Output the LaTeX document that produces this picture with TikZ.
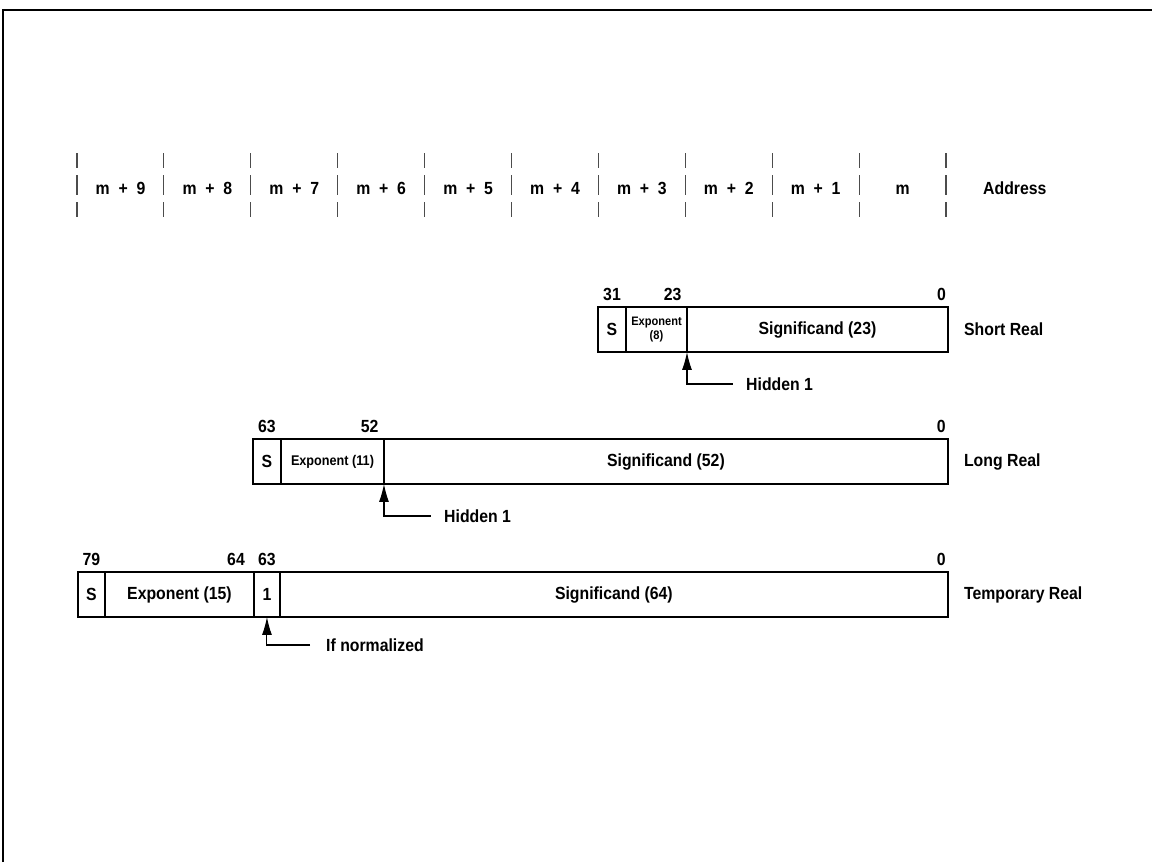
\documentclass[tikz,border=0pt]{standalone}
\usepackage{fontspec}
\setmainfont{Liberation Sans}[FakeStretch=0.9]
\usetikzlibrary{arrows.meta,positioning}

\begin{document}
\begin{tikzpicture}[x=0.02cm, y=-0.02cm,
    cell/.style={draw, line width=1.2pt, minimum height=0.9cm, inner sep=0pt, outer sep=0pt, font=\bfseries},
    bitnum/.style={font=\bfseries, inner sep=1pt, anchor=south, yshift=2.5pt},
    fmtname/.style={font=\bfseries, anchor=west},
    note/.style={font=\bfseries, anchor=west},
    pointer/.style={line width=0.6pt, -{Latex[length=0.36cm,width=0.2cm]}},
    divider/.style={line width=0.6pt, black!70}]

    % Page and frame
    \useasboundingbox (0,0) rectangle (1152,862);
    \draw[line width=1.2pt] (3,862) -- (3,10) -- (1152,10);

    % Address row
    \foreach \k in {0,...,10} {
        \draw[divider] ({77+86.9*\k},153) -- ++(0,15)
            ({77+86.9*\k},175) -- ++(0,20)
            ({77+86.9*\k},202) -- ++(0,15);
    }
    \foreach \k/\txt in {0/m~~+~~9, 1/m~~+~~8, 2/m~~+~~7, 3/m~~+~~6, 4/m~~+~~5,
                         5/m~~+~~4, 6/m~~+~~3, 7/m~~+~~2, 8/m~~+~~1, 9/m} {
        \node[font=\bfseries, anchor=base] (addr\k) at ({120.5+86.9*\k},194) {\txt};
    }
    \node[fmtname, anchor=base west] (addrName) at (977,194) {Address};

    % Short real
    \node[cell, minimum width=0.56cm, anchor=north west] (shS) at (598,307) {S};
    \node[cell, minimum width=1.22cm, right=0pt of shS, align=center,
          font=\bfseries\fontsize{7}{7.5}\selectfont] (shE) {Exponent\\(8)};
    \node[cell, minimum width=5.22cm, right=0pt of shE] (shM) {Significand (23)};
    \node[bitnum] (sh31) at (shS.north) {31};
    \node[bitnum, anchor=south east, xshift=-2pt] (sh23) at (shE.north east) {23};
    \node[bitnum, anchor=south east] (sh0) at (shM.north east) {0};
    \node[fmtname, right=0.2cm of shM] (shName) {Short Real};
    \node[note] (shHid) at (740,384) {Hidden 1};
    \draw[pointer] ([xshift=-0.15cm]shHid.west) -| (shE.south east);

    % Long real
    \node[cell, minimum width=0.56cm, anchor=north west] (lgS) at (253,439) {S};
    \node[cell, minimum width=2.06cm, right=0pt of lgS, font=\bfseries\footnotesize] (lgE) {Exponent (11)};
    \node[cell, minimum width=11.28cm, right=0pt of lgE] (lgM) {Significand (52)};
    \node[bitnum] (lg63) at (lgS.north) {63};
    \node[bitnum, anchor=south east, xshift=-2pt] (lg52) at (lgE.north east) {52};
    \node[bitnum, anchor=south east] (lg0) at (lgM.north east) {0};
    \node[fmtname, right=0.2cm of lgM] (lgName) {Long Real};
    \node[note] (lgHid) at (438,516) {Hidden 1};
    \draw[pointer] ([xshift=-0.15cm]lgHid.west) -| (lgE.south east);

    % Temporary real
    \node[cell, minimum width=0.54cm, anchor=north west] (tpS) at (78,572) {S};
    \node[cell, minimum width=2.98cm, right=0pt of tpS] (tpE) {Exponent (15)};
    \node[cell, minimum width=0.52cm, right=0pt of tpE] (tpO) {1};
    \node[cell, minimum width=13.36cm, right=0pt of tpO] (tpM) {Significand (64)};
    \node[bitnum] (tp79) at (tpS.north) {79};
    \node[bitnum, anchor=south east, xshift=-4pt] (tp64) at (tpE.north east) {64};
    \node[bitnum] (tp63) at (tpO.north) {63};
    \node[bitnum, anchor=south east] (tp0) at (tpM.north east) {0};
    \node[fmtname, right=0.2cm of tpM] (tpName) {Temporary Real};
    \node[note] (tpNorm) at (320,645) {If normalized};
    \draw[pointer] ([xshift=-0.2cm]tpNorm.west) -| (tpO.south);
\end{tikzpicture}
\end{document}
